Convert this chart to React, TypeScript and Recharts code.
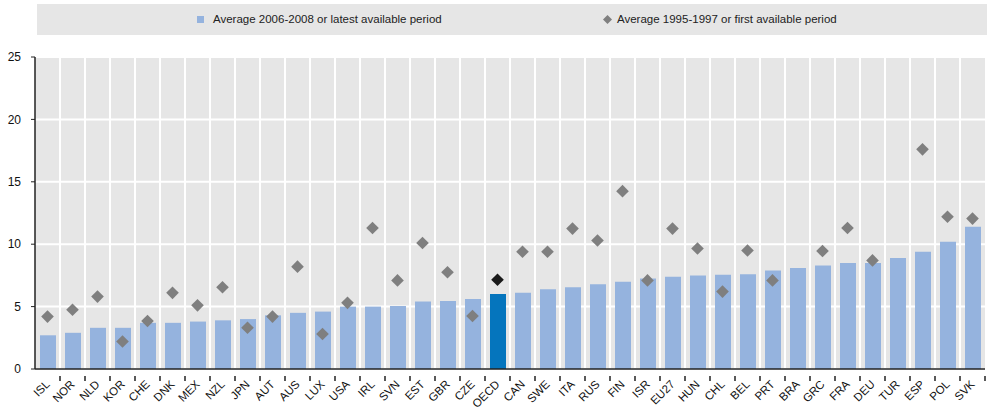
import React from "react";
import {
  Bar,
  CartesianGrid,
  Cell,
  ComposedChart,
  Line,
  XAxis,
  YAxis,
} from "recharts";

const countries = [
  "ISL", "NOR", "NLD", "KOR", "CHE", "DNK", "MEX", "NZL", "JPN", "AUT",
  "AUS", "LUX", "USA", "IRL", "SVN", "EST", "GBR", "CZE", "OECD", "CAN",
  "SWE", "ITA", "RUS", "FIN", "ISR", "EU27", "HUN", "CHL", "BEL", "PRT",
  "BRA", "GRC", "FRA", "DEU", "TUR", "ESP", "POL", "SVK",
];

// Average 2006-2008 or latest available period
const latestValues = [
  2.7, 2.9, 3.3, 3.3, 3.7, 3.7, 3.8, 3.9, 4.0, 4.3,
  4.5, 4.6, 5.0, 5.0, 5.05, 5.4, 5.45, 5.6, 6.0, 6.1,
  6.4, 6.55, 6.8, 7.0, 7.25, 7.4, 7.5, 7.55, 7.6, 7.9,
  8.1, 8.3, 8.5, 8.5, 8.9, 9.4, 10.2, 11.4,
];

// Average 1995-1997 or first available period
const firstValues: (number | null)[] = [
  4.2, 4.75, 5.8, 2.2, 3.85, 6.1, 5.1, 6.55, 3.3, 4.2,
  8.2, 2.8, 5.3, 11.3, 7.1, 10.1, 7.75, 4.25, 7.15, 9.4,
  9.4, 11.25, 10.3, 14.25, 7.1, 11.25, 9.65, 6.2, 9.5, 7.1,
  null, 9.45, 11.3, 8.7, null, 17.6, 12.2, 12.05,
];

const yTicks = [0, 5, 10, 15, 20, 25];

const data = countries.map((c, i) => ({
  country: c,
  latest: latestValues[i],
  first: firstValues[i],
}));

const FONT = '"Liberation Sans", Arial, sans-serif';
const WIDTH = 987;
const HEIGHT = 408;
const MARGIN = { top: 57, right: 2, bottom: 0, left: 0 };
const Y_WIDTH = 35;
const PLOT_W = WIDTH - MARGIN.left - MARGIN.right - Y_WIDTH;
const STEP = PLOT_W / countries.length;

const BAR_COLOR = "#95b3de";
const OECD_BAR = "#0575bd";
const DOT_COLOR = "#7f7f7f";
const OECD_DOT = "#1a1a1a";

// labels are rotated -45deg and end just right of the category centre,
// tick marks sit on the category boundaries
const renderXTick = (props: any) => {
  const { x, y, payload, index } = props;
  const ax = x + 3;
  const ay = y + 8;
  return (
    <g key={`xt-${index}`}>
      <line x1={x + STEP / 2} x2={x + STEP / 2} y1={y - 1} y2={y + 4} stroke="#222" strokeWidth={1.5} />
      <text
        x={ax}
        y={ay}
        textAnchor="end"
        fontSize={11.5}
        fontFamily={FONT}
        fill="#111"
        transform={`rotate(-45 ${ax} ${ay})`}
      >
        {payload.value}
      </text>
    </g>
  );
};

function Diamond(props: any) {
  const { cx, cy, payload } = props;
  if (cy == null || payload?.first == null) return <g key={`d-${payload?.country}`} />;
  const r = 6.3;
  const fill = payload.country === "OECD" ? OECD_DOT : DOT_COLOR;
  return (
    <polygon
      key={`d-${payload.country}`}
      points={`${cx},${cy - r} ${cx + r},${cy} ${cx},${cy + r} ${cx - r},${cy}`}
      fill={fill}
    />
  );
}

export default function App() {
  return (
    <div style={{ position: "absolute", left: 0, top: 0, width: WIDTH, height: HEIGHT, background: "#fff", fontFamily: FONT }}>
      <div
        style={{
          position: "absolute",
          left: 37,
          top: 4,
          width: 950,
          height: 31,
          background: "#e6e6e6",
          fontSize: 11.5,
          color: "#222",
        }}
      >
        <div style={{ position: "absolute", left: 160, top: 12, width: 7, height: 7, background: BAR_COLOR }} />
        <div style={{ position: "absolute", left: 176, top: 8, lineHeight: "14px", whiteSpace: "nowrap" }}>
          Average 2006-2008 or latest available period
        </div>
        <svg style={{ position: "absolute", left: 566, top: 11 }} width={9} height={9}>
          <polygon points="4.5,0 9,4.5 4.5,9 0,4.5" fill={DOT_COLOR} />
        </svg>
        <div style={{ position: "absolute", left: 580, top: 8, lineHeight: "14px", whiteSpace: "nowrap" }}>
          Average 1995-1997 or first available period
        </div>
      </div>
      <ComposedChart width={WIDTH} height={HEIGHT} data={data} margin={MARGIN} barSize={16}>
        <CartesianGrid
          fill="#e6e6e6"
          stroke="#ffffff"
          strokeWidth={2}
          verticalCoordinatesGenerator={({ offset }: any) =>
            countries.slice(1).map((_, i) => offset.left + ((i + 1) * offset.width) / countries.length)
          }
        />
        <XAxis
          dataKey="country"
          interval={0}
          tickLine={false}
          axisLine={{ stroke: "#222", strokeWidth: 1.5 }}
          tick={renderXTick}
          angle={-45}
          textAnchor="end"
          height={39}
        />
        <YAxis
          width={Y_WIDTH}
          domain={[0, 25]}
          ticks={yTicks}
          tickSize={4}
          tickMargin={10}
          axisLine={{ stroke: "#222", strokeWidth: 1.5 }}
          tickLine={{ stroke: "#222" }}
          tick={{ fontSize: 12, fill: "#111", fontFamily: FONT }}
        />
        <Bar dataKey="latest" isAnimationActive={false}>
          {data.map((d) => (
            <Cell key={d.country} fill={d.country === "OECD" ? OECD_BAR : BAR_COLOR} />
          ))}
        </Bar>
        <Line
          dataKey="first"
          stroke="none"
          strokeWidth={0}
          dot={<Diamond />}
          activeDot={false}
          connectNulls={false}
          isAnimationActive={false}
        />
      </ComposedChart>
    </div>
  );
}
